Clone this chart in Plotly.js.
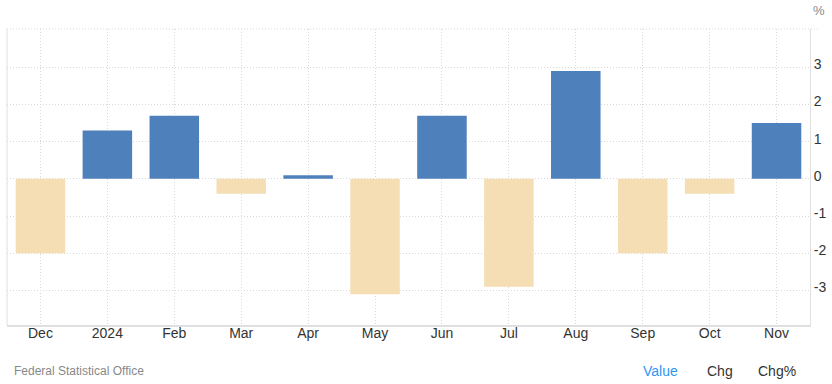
<!DOCTYPE html>
<html>
<head>
<meta charset="utf-8">
<script src="https://cdn.plot.ly/plotly-3.0.1.min.js"></script>
<style>html,body{margin:0;padding:0;background:#fff;}#chart{width:832px;height:384px;}</style>
</head>
<body>
<div id="chart"></div>
<script>
var categories = ["Dec", "2024", "Feb", "Mar", "Apr", "May", "Jun", "Jul", "Aug", "Sep", "Oct", "Nov"];
var values = [-2.0, 1.3, 1.7, -0.4, 0.1, -3.1, 1.7, -2.9, 2.9, -2.0, -0.4, 1.5];
var yTicks = [-3, -2, -1, 0, 1, 2, 3];
var yTickLabels = ["-3", "-2", "-1", "0", "1", "2", "3"];

var posColor = "#4e80bc";
var negColor = "#f5deb3";
var colors = values.map(function (v) { return v >= 0 ? posColor : negColor; });

var trace = {
  type: "bar",
  x: categories,
  y: values,
  marker: { color: colors, line: { width: 0 } },
  hoverinfo: "x+y"
};

var font = "Liberation Sans, Arial, sans-serif";
var gridDash = "1px,2px";
var layout = {
  width: 832,
  height: 384,
  margin: { l: 7, r: 22, t: 29, b: 59 },
  paper_bgcolor: "#fff",
  plot_bgcolor: "#fff",
  showlegend: false,
  bargap: 0.26,
  font: { family: font, size: 14, color: "#333" },
  xaxis: {
    type: "category",
    showgrid: true,
    gridcolor: "#d8d8d8",
    griddash: gridDash,
    gridwidth: 1,
    showline: true,
    linecolor: "#e0e0e0",
    linewidth: 2,
    ticks: "",
    ticklabelstandoff: -6,
    tickfont: { family: font, size: 14, color: "#333" },
    fixedrange: true
  },
  yaxis: {
    side: "right",
    range: [-3.93, 4.03],
    tickvals: yTicks,
    ticktext: yTickLabels,
    showgrid: true,
    gridcolor: "#d8d8d8",
    griddash: gridDash,
    gridwidth: 1,
    zeroline: false,
    showline: true,
    linecolor: "#e0e0e0",
    linewidth: 1,
    ticks: "",
    ticklabelstandoff: 0,
    ticklabelshift: -3,
    tickfont: { family: font, size: 14, color: "#333" },
    fixedrange: true
  },
  shapes: [
    { type: "line", xref: "paper", yref: "paper", x0: 0, x1: 0, y0: 0, y1: 1,
      line: { color: "#e0e0e0", width: 1 } },
    { type: "line", xref: "paper", yref: "paper", x0: 0, x1: 1.01, y0: 1, y1: 1,
      line: { color: "#d8d8d8", width: 1, dash: gridDash } }
  ],
  annotations: [
    { text: "%", xref: "paper", yref: "paper", x: 1.0, y: 1.0, xanchor: "left", yanchor: "bottom",
      xshift: 1, yshift: 9, showarrow: false, font: { family: font, size: 13, color: "#888" } },
    { text: "Federal Statistical Office", xref: "paper", yref: "paper", x: 0, y: 0, xanchor: "left", yanchor: "middle",
      xshift: 5, yshift: -46, showarrow: false, font: { family: font, size: 12, color: "#888" } },
    { text: "Value", xref: "paper", yref: "paper", x: 1, y: 0, xanchor: "center", yanchor: "middle",
      xshift: -150, yshift: -46, showarrow: false, font: { family: font, size: 14, color: "#2f96f3" } },
    { text: "Chg", xref: "paper", yref: "paper", x: 1, y: 0, xanchor: "center", yanchor: "middle",
      xshift: -90, yshift: -46, showarrow: false, font: { family: font, size: 14, color: "#333" } },
    { text: "Chg%", xref: "paper", yref: "paper", x: 1, y: 0, xanchor: "center", yanchor: "middle",
      xshift: -33, yshift: -46, showarrow: false, font: { family: font, size: 14, color: "#333" } }
  ]
};

Plotly.newPlot("chart", [trace], layout, { displayModeBar: false, staticPlot: true });
</script>
</body>
</html>
